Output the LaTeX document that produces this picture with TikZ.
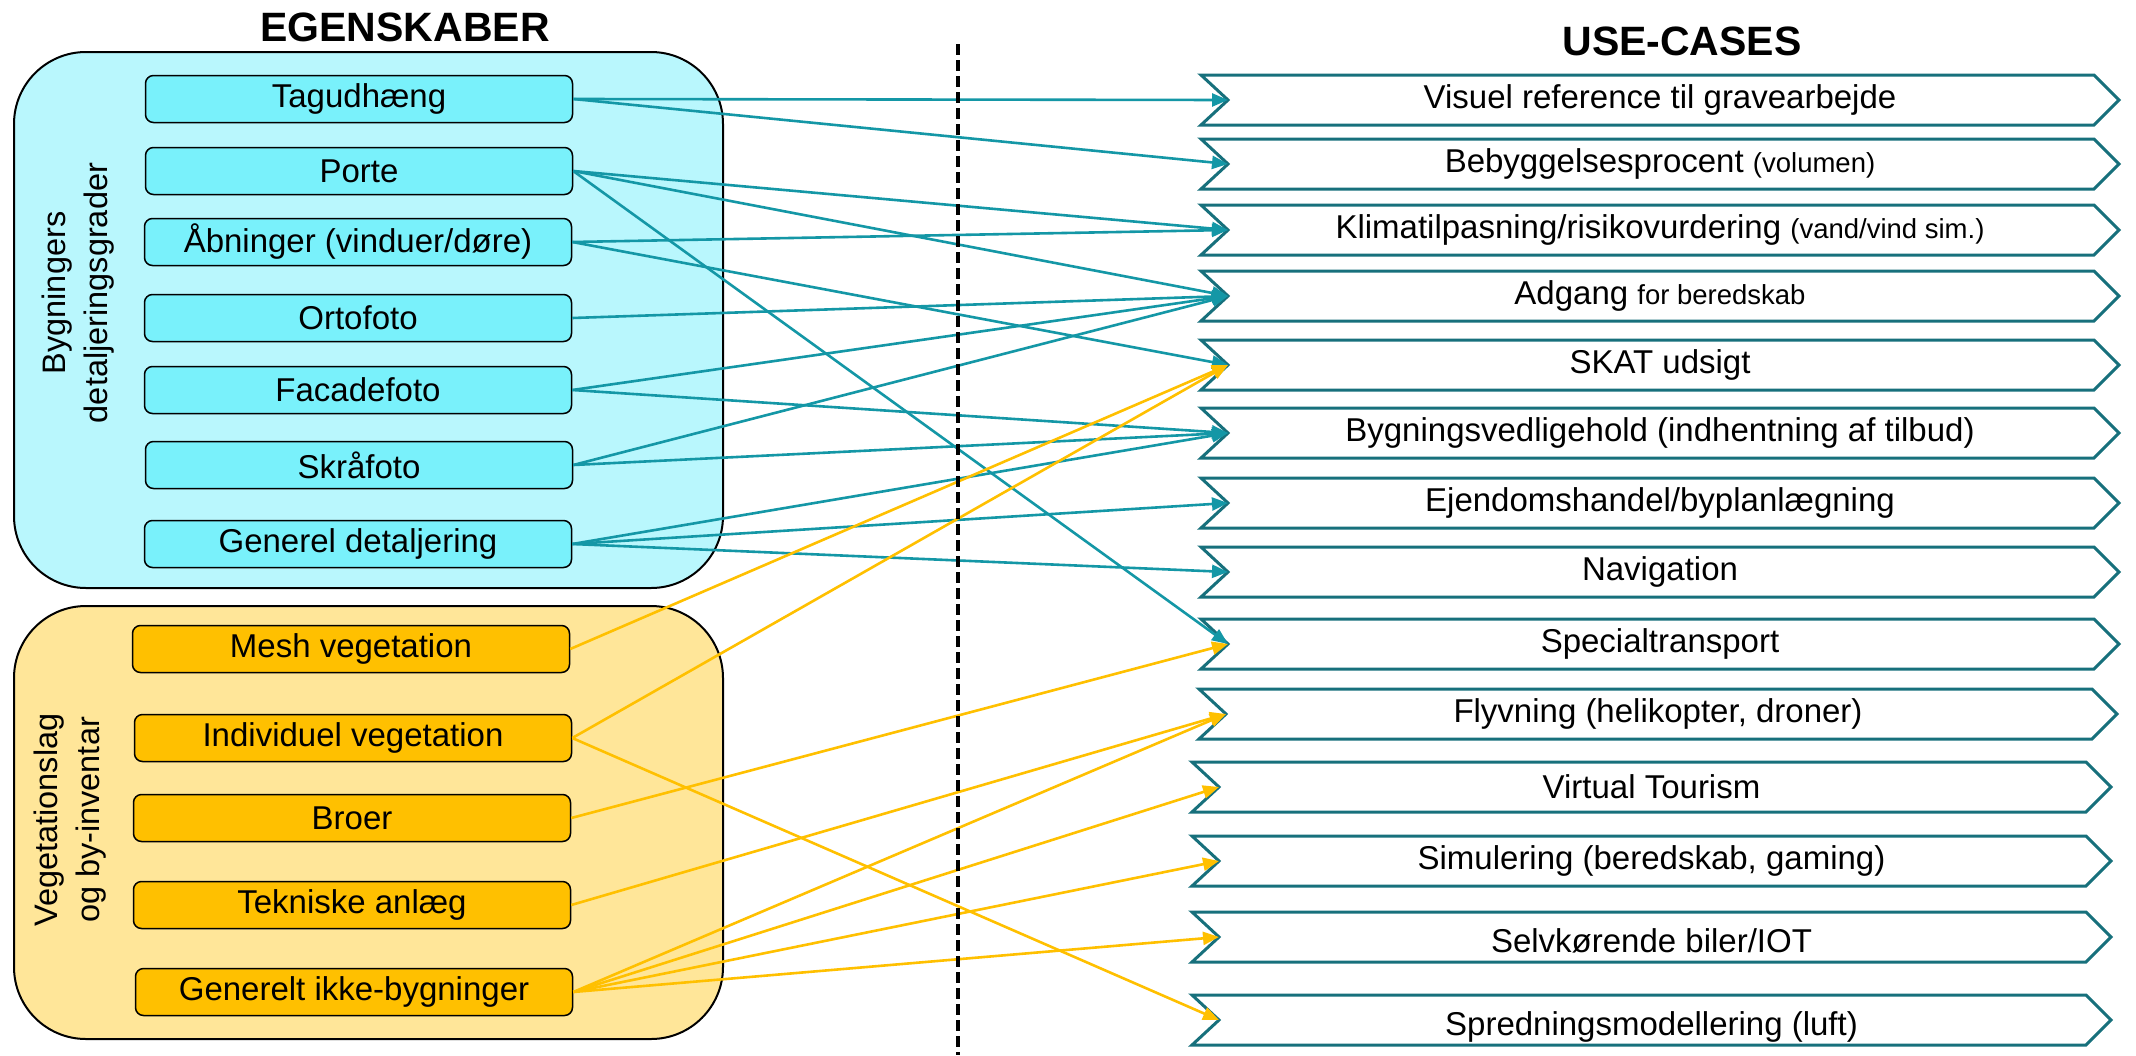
\documentclass[tikz,border=0pt]{standalone}
\usepackage{fontspec}
\setmainfont{Liberation Sans}
\usetikzlibrary{arrows.meta}
\definecolor{panelblue}{HTML}{B9F7FD}
\definecolor{boxblue}{HTML}{79F1FB}
\definecolor{panelyel}{HTML}{FFE699}
\definecolor{boxyel}{HTML}{FFC000}
\definecolor{tealline}{HTML}{1497A6}
\definecolor{chevcol}{HTML}{17707C}
\definecolor{yelline}{HTML}{FFC000}
\newcommand\smtxt[1]{{\fontsize{27.5}{32}\selectfont #1}}
% #1 name, #2 y, #3 left x, #4 right body x, #5 text, #6 text y shift
\newcommand\mychev[6]{%
  \draw[chevline] (#3,#2-25) -- (#4,#2-25) -- (#4+25,#2) -- (#4,#2+25) -- (#3,#2+25) -- (#3+27,#2) -- cycle;
  \coordinate (#1) at (#3+27,#2);
  \node[chevtext] (#1t) at ({(#3+#4+25)/2},#2+#6) {#5};
}
\begin{document}
\begin{tikzpicture}[x=1pt,y=-1pt,
  panel/.style={draw=black,line width=2pt,rounded corners=72pt},
  bbox/.style={draw=black,line width=1.5pt,fill=boxblue,rounded corners=8pt,minimum width=427pt,minimum height=47pt,inner sep=0pt,font=\fontsize{33}{38}\selectfont},
  ybox/.style={draw=black,line width=1.5pt,fill=boxyel,rounded corners=8pt,minimum width=437pt,minimum height=47pt,inner sep=0pt,font=\fontsize{33}{38}\selectfont},
  chevline/.style={draw=chevcol,line width=3pt,fill=white,line join=miter},
  chevtext/.style={font=\fontsize{33}{38}\selectfont,inner sep=0pt},
  tarr/.style={draw=tealline,line width=2.6pt,-{Triangle[length=16pt,width=13pt]}},
  yarr/.style={draw=yelline,line width=2.6pt,-{Triangle[length=16pt,width=13pt]}},
  ttl/.style={font=\fontsize{41}{48}\selectfont\bfseries,inner sep=0pt},
  sidelabel/.style={rotate=90,align=center,font=\fontsize{32.5}{42}\selectfont,inner sep=0pt}
]
\useasboundingbox (0,0) rectangle (2136,1055);
\fill[white] (0,0) rectangle (2136,1055);

% titles
\node[ttl] (egen) at (405,27) {EGENSKABER};
\node[ttl] (usec) at (1682,41) {USE-CASES};

% panels
\draw[panel,fill=panelblue] (14,52) rectangle (723,588);
\draw[panel,fill=panelyel] (14,606) rectangle (723,1039);

\node[sidelabel] (blab) at (78,293) {Bygningers\\detaljeringsgrader};
\node[sidelabel] (ylab) at (70,820) {Vegetationslag\\og by-inventar};

% left boxes
\node[bbox] (tag) at (359,99) {Tagudhæng};
\node[bbox] (porte) at (359,171) {Porte};
\node[bbox] (abn) at (358,242) {Åbninger (vinduer/døre)};
\node[bbox] (orto) at (358,318) {Ortofoto};
\node[bbox] (facade) at (358,390) {Facadefoto};
\node[bbox] (skra) at (359,465) {Skråfoto};
\node[bbox] (gen) at (358,544) {Generel detaljering};

\node[ybox] (mesh) at (351,649) {Mesh vegetation};
\node[ybox] (indiv) at (353,738) {Individuel vegetation};
\node[ybox] (broer) at (352,818) {Broer};
\node[ybox] (tek) at (352,905) {Tekniske anlæg};
\node[ybox] (ikke) at (354,992) {Generelt ikke-bygninger};

% use-cases
\mychev{u1}{100}{1201}{2094}{Visuel reference til gravearbejde}{0}
\mychev{u2}{164}{1201}{2094}{Bebyggelsesprocent \smtxt{(volumen)}}{0}
\mychev{u3}{230}{1201}{2094}{Klimatilpasning/risikovurdering \smtxt{(vand/vind sim.)}}{0}
\mychev{u4}{296}{1201}{2094}{Adgang \smtxt{for beredskab}}{0}
\mychev{u5}{365}{1201}{2094}{SKAT udsigt}{0}
\mychev{u6}{433}{1201}{2094}{Bygningsvedligehold (indhentning af tilbud)}{0}
\mychev{u7}{503}{1201}{2094}{Ejendomshandel/byplanlægning}{0}
\mychev{u8}{572}{1201}{2094}{Navigation}{0}
\mychev{u9}{644}{1201}{2094}{Specialtransport}{0}
\mychev{u10}{714}{1199}{2092}{Flyvning (helikopter, droner)}{0}
\mychev{u11}{787}{1192}{2086}{Virtual Tourism}{0}
\mychev{u12}{861}{1192}{2086}{Simulering (beredskab, gaming)}{0}
\mychev{u13}{937}{1192}{2086}{Selvkørende biler/IOT}{4}
\mychev{u14}{1020}{1192}{2086}{Spredningsmodellering (luft)}{7}

% teal connectors
\draw[tarr] (tag.east) -- (u1);
\draw[tarr] (tag.east) -- (u2);
\draw[tarr] (porte.east) -- (u3);
\draw[tarr] (porte.east) -- (u4);
\draw[tarr] (porte.east) -- (u9);
\draw[tarr] (abn.east) -- (u3);
\draw[tarr] (abn.east) -- (u5);
\draw[tarr] (orto.east) -- (u4);
\draw[tarr] (facade.east) -- (u4);
\draw[tarr] (facade.east) -- (u6);
\draw[tarr] (skra.east) -- (u4);
\draw[tarr] (skra.east) -- (u6);
\draw[tarr] (gen.east) -- (u6);
\draw[tarr] (gen.east) -- (u7);
\draw[tarr] (gen.east) -- (u8);

% yellow connectors
\draw[yarr] (mesh.east) -- (u5);
\draw[yarr] (indiv.east) -- (u5);
\draw[yarr] (indiv.east) -- (u14);
\draw[yarr] (broer.east) -- (u9);
\draw[yarr] (tek.east) -- (u10);
\draw[yarr] (ikke.east) -- (u10);
\draw[yarr] (ikke.east) -- (u11);
\draw[yarr] (ikke.east) -- (u12);
\draw[yarr] (ikke.east) -- (u13);

% divider
\coordinate (dtop) at (958,44);
\coordinate (dbot) at (958,1055);
\draw[black,line width=4pt,dash pattern=on 11pt off 5pt] (dtop) -- (dbot);
\end{tikzpicture}
\end{document}
